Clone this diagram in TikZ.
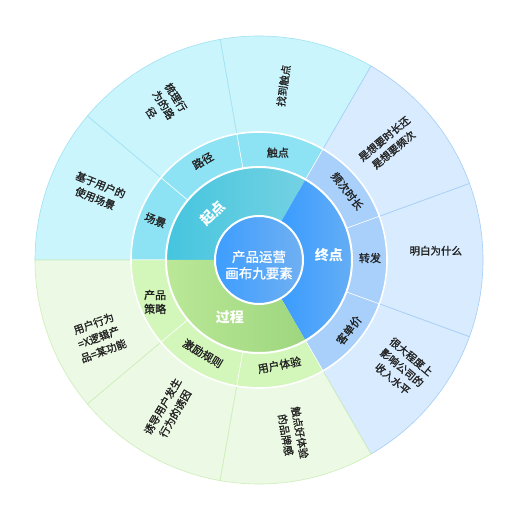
\documentclass[tikz,border=0pt]{standalone}
\usepackage{fontspec}
\setmainfont{Noto Sans CJK SC}
\newfontfamily\medcjk[FakeBold=1.2]{Noto Sans CJK SC}
\definecolor{txt}{HTML}{222222}
\definecolor{cyanO}{HTML}{CBF5FD}
\definecolor{cyanOB}{HTML}{9FE2F2}
\definecolor{cyanM}{HTML}{8DE3F4}
\definecolor{cyanIL}{HTML}{45C5DF}
\definecolor{cyanIR}{HTML}{74D2E2}
\definecolor{blueO}{HTML}{D9EBFE}
\definecolor{blueOB}{HTML}{A5CEF7}
\definecolor{blueM}{HTML}{A8D0FA}
\definecolor{blueIL}{HTML}{3A9CFF}
\definecolor{blueIR}{HTML}{6DB1F3}
\definecolor{greenO}{HTML}{ECF9E4}
\definecolor{greenOB}{HTML}{CDEEB8}
\definecolor{greenM}{HTML}{D3F6BA}
\definecolor{greenIL}{HTML}{BAE897}
\definecolor{greenIR}{HTML}{9ED67E}
\definecolor{centerL}{HTML}{3D9DFF}
\definecolor{centerR}{HTML}{70B0F2}
\newcommand\sect[4]{(#3:#2pt) arc[start angle=#3, end angle=#4, radius=#2pt] -- (#4:#1pt) arc[start angle=#4, end angle=#3, radius=#1pt] -- cycle}
\tikzset{
  outerlbl/.style={font=\medcjk\fontsize{10.5}{14.5}\selectfont, text=txt, align=center, inner sep=0pt},
  midlbl/.style={font=\medcjk\fontsize{11}{14}\selectfont, text=txt, align=center, inner sep=0pt},
  innlbl/.style={font=\fontsize{14}{16}\selectfont\bfseries, text=white, inner sep=0pt},
  ctrlbl/.style={font=\medcjk\fontsize{13.5}{16.5}\selectfont, text=white, align=center, inner sep=0pt},
}
\begin{document}
\begin{tikzpicture}[x=1pt,y=1pt]
\fill[white] (0,0) rectangle (520,520);
\useasboundingbox (0,0) rectangle (520,520);
\begin{scope}[shift={(259,260)}]
% outer ring
\foreach \a in {60,100,140}{\filldraw[fill=cyanO,draw=cyanOB,line width=0.6pt] \sect{128}{224}{\a}{\a+40};}
\foreach \a in {-60,-20,20}{\filldraw[fill=blueO,draw=blueOB,line width=0.6pt] \sect{128}{224}{\a}{\a+40};}
\foreach \a in {180,220,260}{\filldraw[fill=greenO,draw=greenOB,line width=0.6pt] \sect{128}{224}{\a}{\a+40};}
% middle ring
\foreach \a in {60,100,140}{\filldraw[fill=cyanM,draw=white,line width=0.5pt] \sect{93}{128}{\a}{\a+40};}
\foreach \a in {-60,-20,20}{\filldraw[fill=blueM,draw=white,line width=0.5pt] \sect{93}{128}{\a}{\a+40};}
\foreach \a in {180,220,260}{\filldraw[fill=greenM,draw=white,line width=0.5pt] \sect{93}{128}{\a}{\a+40};}
% inner ring
\shade[left color=cyanIL,right color=cyanIR] \sect{44}{93}{60}{180};
\shade[left color=blueIL,right color=blueIR] \sect{44}{93}{-60}{60};
\shade[left color=greenIL,right color=greenIR] \sect{44}{93}{180}{300};
% center
\shade[left color=centerL,right color=centerR] (0,0) circle[radius=44pt];
\draw[white,line width=2pt] (0,0) circle[radius=44pt];
\draw[white,line width=2pt] (0,0) circle[radius=93pt];
\draw[white,line width=1.6pt] (0,0) circle[radius=128pt];
% center label
\node[ctrlbl] (c) at (0,-5) {产品运营\\画布九要素};
% inner labels
\node[innlbl,rotate=45] (qd) at (135:66pt) {起点};
\node[innlbl] (zd) at (4:70pt) {终点};
\node[innlbl] (gc) at (243:64pt) {过程};
% middle labels
\node[midlbl,rotate=-21] (m1) at (159:111pt) {场景};
\node[midlbl,rotate=30] (m2) at (119.5:114pt) {路径};
\node[midlbl] (m3) at (80:109pt) {触点};
\node[midlbl,rotate=-52] (m4) at (38:112pt) {频次时长};
\node[midlbl] (m5) at (1:111pt) {转发};
\node[midlbl,rotate=52] (m6) at (-38:114pt) {客单价};
\node[midlbl,rotate=11] (m7) at (-79:107pt) {用户体验};
\node[midlbl,rotate=-31] (m8) at (239:109pt) {激励规则};
\node[midlbl] (m9) at (202:112pt) {产品\\策略};
% outer labels
\node[outerlbl,rotate=-22] (o1) at (157:175pt) {基于用户的\\使用场景};
\node[outerlbl,rotate=-58] (o2) at (121.6:182pt) {梳理行\\为的路\\径};
\node[outerlbl,rotate=82] (o3) at (82:176pt) {找到触点};
\node[outerlbl,rotate=40] (o4) at (41.7:174pt) {是想要时长还\\是想要频次};
\node[outerlbl] (o5) at (3:177pt) {明白为什么};
\node[outerlbl,rotate=-40] (o6) at (-37:179pt) {很大程度上\\影响公司的\\收入水平};
\node[outerlbl,rotate=-80] (o7) at (-79:177pt) {触点好体验\\的品牌感};
\node[outerlbl,rotate=60] (o8) at (239:175pt) {诱导用户发生\\行为的诱因};
\node[outerlbl,rotate=20] (o9) at (205.7:178pt) {用户行为\\=X逻辑产\\品=某功能};
\end{scope}
\end{tikzpicture}
\end{document}
